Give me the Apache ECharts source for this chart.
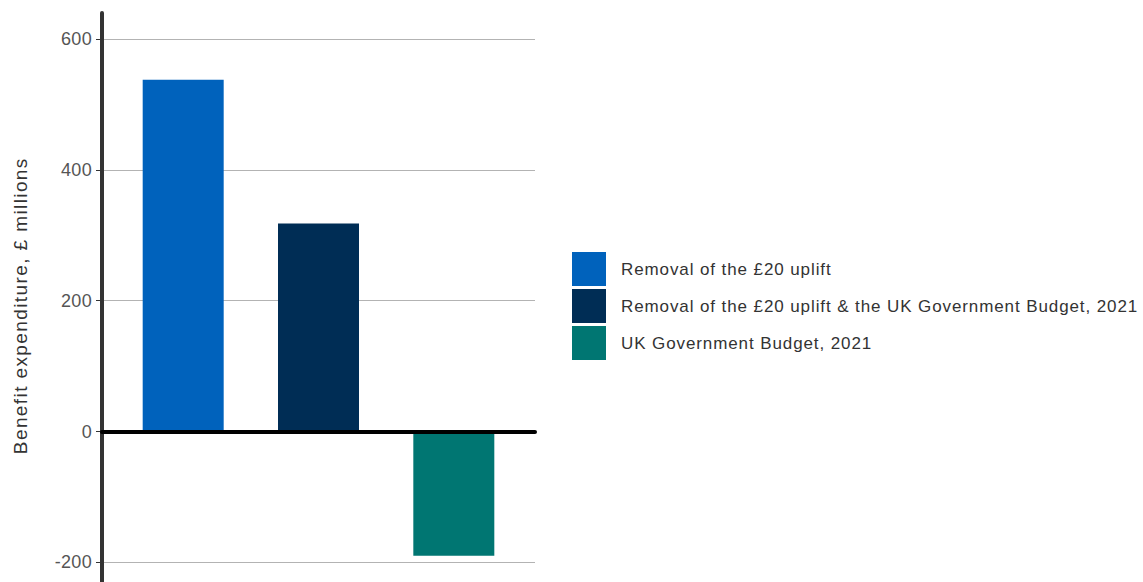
<!DOCTYPE html>
<html>
<head>
<meta charset="utf-8">
<script src="https://cdn.jsdelivr.net/npm/echarts@6/dist/echarts.min.js"></script>
<style>
  html, body { margin: 0; padding: 0; background: #ffffff; }
  #chart { width: 1143px; height: 582px; }
</style>
</head>
<body>
<div id="chart"></div>
<script>
// Scenario names (legend entries) and change in benefit expenditure, £ millions
const scenarios = [
  'Removal of the £20 uplift',
  'Removal of the £20 uplift & the UK Government Budget, 2021',
  'UK Government Budget, 2021'
];
const expenditure = [538, 318, -190];
const colours = ['#0062bc', '#002d55', '#007672'];
const yTicks = { min: -200, max: 600, step: 200 };

const FONT = '"Liberation Sans", Arial, Helvetica, sans-serif';

const chart = echarts.init(document.getElementById('chart'), null, { renderer: 'svg' });

const series = scenarios.map((name, i) => ({
  name: name,
  type: 'bar',
  xAxisIndex: 0,
  yAxisIndex: 0,
  stack: 'all',
  barWidth: 81,
  itemStyle: { color: colours[i] },
  data: [[i, expenditure[i]]]
}));

chart.setOption({
  animation: false,
  backgroundColor: '#ffffff',
  textStyle: { fontFamily: FONT },
  grid: [
    { left: 102, right: 608, top: 39.1, bottom: 19.7, containLabel: false },
    // taller grid that only carries the extended vertical axis line
    { left: 102, right: 608, top: 13, bottom: 0, containLabel: false }
  ],
  legend: {
    orient: 'vertical',
    left: 572,
    top: 252,
    padding: 0,
    itemWidth: 34,
    itemHeight: 34,
    itemGap: 3,
    icon: 'rect',
    selectedMode: false,
    textStyle: { fontSize: 17, color: '#333333', fontFamily: FONT, padding: [0, 0, 0, 10] },
    data: scenarios
  },
  xAxis: [
    {
      type: 'value',
      gridIndex: 0,
      min: -0.6,
      max: 2.6,
      z: 5,
      axisLine: { show: true, onZero: true, lineStyle: { color: '#000000', width: 4 } },
      axisTick: { show: false },
      axisLabel: { show: false },
      splitLine: { show: false }
    },
    { type: 'value', gridIndex: 1, show: false, min: 0, max: 1 }
  ],
  yAxis: [
    {
      type: 'value',
      gridIndex: 0,
      min: yTicks.min,
      max: yTicks.max,
      interval: yTicks.step,
      name: 'Benefit expenditure, £ millions',
      nameLocation: 'middle',
      nameGap: 72,
      nameTextStyle: { fontSize: 19, color: '#333333', fontFamily: FONT, padding: [0, 10, 0, 0] },
      axisLine: { show: false, onZero: false },
      axisTick: { show: true, length: 6, lineStyle: { color: '#333333', width: 1 } },
      axisLabel: { fontSize: 18, color: '#555555', margin: 10, fontFamily: FONT },
      splitLine: { show: true, lineStyle: { color: '#b3b3b3', width: 1 } }
    },
    {
      type: 'value',
      gridIndex: 1,
      min: -230,
      max: 640,
      axisLine: { show: true, onZero: false, lineStyle: { color: '#333333', width: 4 } },
      axisTick: { show: false },
      axisLabel: { show: false },
      splitLine: { show: false }
    }
  ],
  series: series
});

// Open up the tracking of the text a little, more for the larger axis title
function spaceText() {
  document.querySelectorAll('#chart svg text').forEach(function (el) {
    const size = parseFloat(getComputedStyle(el).fontSize) || 0;
    let spacing = 0.3;
    if (size >= 19) spacing = 1.4;
    else if (size >= 17 && size < 18) spacing = 0.9;
    el.style.letterSpacing = spacing + 'px';
  });
}
spaceText();
chart.on('finished', spaceText);
</script>
</body>
</html>
